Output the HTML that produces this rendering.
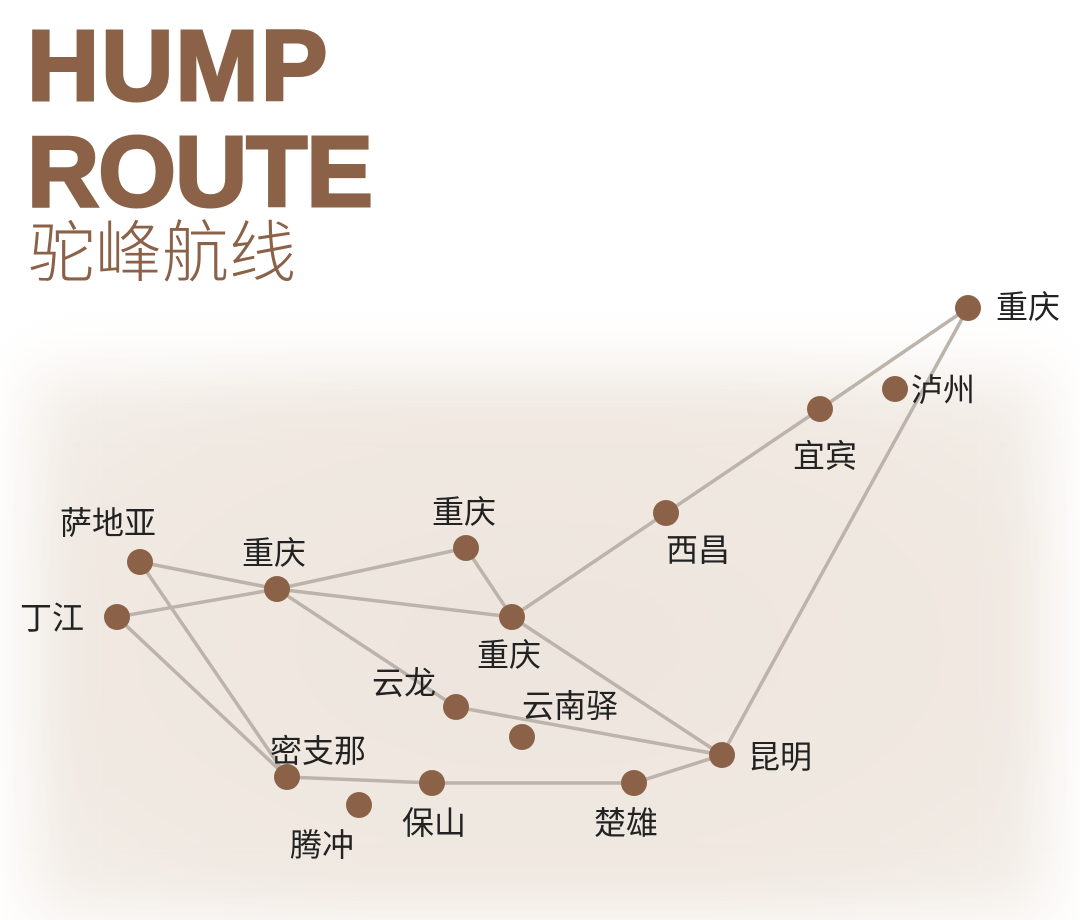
<!DOCTYPE html>
<html><head><meta charset="utf-8"><style>
html,body{margin:0;padding:0;background:#fff;}
body{width:1080px;height:879px;position:relative;overflow:hidden;}
.bg{position:absolute;left:30px;top:370px;width:1020px;height:550px;background:radial-gradient(ellipse 70% 70% at 50% 50%, #ede5dd 0%, #f0e9e2 70%, #f5f0eb 100%);filter:blur(30px);}
.t{position:absolute;left:27px;font-family:"Liberation Sans",sans-serif;font-weight:bold;color:#8b6248;font-size:100px;line-height:1;-webkit-text-stroke:3px #8b6248;}
.cn{position:absolute;left:28px;top:220px;font-family:"Liberation Sans","Noto Sans CJK SC",sans-serif;font-weight:300;color:#8b6248;font-size:67px;line-height:1;}
svg{position:absolute;left:0;top:0;}
text{font-family:"Liberation Sans","Noto Sans CJK SC",sans-serif;font-size:32px;fill:#222;dominant-baseline:central;}
</style></head><body>
<div class="bg"></div>
<div class="t" style="top:16px;letter-spacing:2px">HUMP</div>
<div class="t" style="top:122px;letter-spacing:-1px">ROUTE</div>
<div class="cn">驼峰航线</div>
<svg width="1080" height="879">
<g stroke="#bcb3aa" stroke-width="3.5" fill="none">
<polyline points="968,308 820,409 666,513 512,617"/>
<line x1="968" y1="308" x2="722" y2="755"/>
<polyline points="140,562 277,589 512,617 722,755"/>
<polyline points="277,589 466,548 512,617"/>
<line x1="117" y1="617" x2="277" y2="589"/>
<line x1="117" y1="617" x2="287" y2="777"/>
<line x1="140" y1="562" x2="287" y2="777"/>
<polyline points="277,589 456,707 722,755"/>
<polyline points="287,777 432,783 634,783 722,755"/>
</g>
<g fill="#8b6248">
<circle cx="968" cy="308" r="13"/><circle cx="895" cy="389" r="13"/><circle cx="820" cy="409" r="13"/>
<circle cx="666" cy="513" r="13"/><circle cx="466" cy="548" r="13"/><circle cx="140" cy="562" r="13"/>
<circle cx="277" cy="589" r="13"/><circle cx="117" cy="617" r="13"/><circle cx="512" cy="617" r="13"/>
<circle cx="456" cy="707" r="13"/><circle cx="522" cy="737" r="13"/><circle cx="722" cy="755" r="13"/>
<circle cx="287" cy="777" r="13"/><circle cx="432" cy="783" r="13"/><circle cx="634" cy="783" r="13"/>
<circle cx="359" cy="805" r="13"/>
</g>
<text x="996" y="307">重庆</text>
<text x="911" y="390">泸州</text>
<text x="793" y="456">宜宾</text>
<text x="666" y="550">西昌</text>
<text x="432" y="512">重庆</text>
<text x="60" y="523">萨地亚</text>
<text x="242" y="553">重庆</text>
<text x="20" y="618">丁江</text>
<text x="477" y="655">重庆</text>
<text x="372" y="683">云龙</text>
<text x="522" y="706">云南驿</text>
<text x="748" y="757">昆明</text>
<text x="270" y="751">密支那</text>
<text x="402" y="823">保山</text>
<text x="594" y="823">楚雄</text>
<text x="290" y="845">腾冲</text>
</svg>
</body></html>
